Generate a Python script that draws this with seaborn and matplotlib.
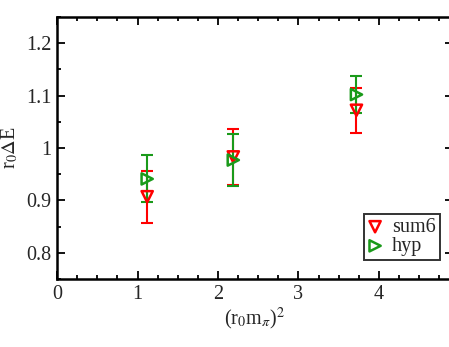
import numpy as np
import matplotlib
matplotlib.use("Agg")
import matplotlib.pyplot as plt
import seaborn as sns

# data
x_pts = [1.12, 2.19, 3.72]
sum6_y = [0.907, 0.983, 1.072]
sum6_err = [0.050, 0.053, 0.043]
hyp_y = [0.941, 0.977, 1.102]
hyp_err = [0.045, 0.050, 0.036]

sns.set_style("ticks")
plt.rcParams["font.family"] = ["Liberation Serif", "DejaVu Serif"]
plt.rcParams["mathtext.fontset"] = "stix"

fig = plt.figure(figsize=(4.49, 3.47), dpi=100)
# right spine falls just outside the picture, like the reference
ax = fig.add_axes([0.127, 0.196, 0.882, 0.755])

ax.errorbar(x_pts, sum6_y, yerr=sum6_err, fmt="none", ecolor="#ff0000",
            elinewidth=1.5, capsize=4, capthick=1.5, zorder=2)
ax.errorbar(x_pts, hyp_y, yerr=hyp_err, fmt="none", ecolor="#1a9a1a",
            elinewidth=1.5, capsize=4, capthick=1.5, zorder=3)
sns.scatterplot(x=x_pts, y=sum6_y, ax=ax, marker="v", s=65,
                facecolors="none", edgecolor="#ff0000", linewidth=1.8,
                label="sum6", zorder=4)
sns.scatterplot(x=x_pts, y=hyp_y, ax=ax, marker=">", s=65,
                facecolors="none", edgecolor="#1a9a1a", linewidth=1.8,
                label="hyp", zorder=5)

ax.set_xlim(0, 4.92)
ax.set_ylim(0.75, 1.25)
ax.set_xticks([0, 1, 2, 3, 4])
ax.set_xticks(np.arange(0, 4.95, 0.25), minor=True)
ax.set_yticks([0.8, 0.9, 1.0, 1.1, 1.2])
ax.set_yticklabels(["0.8", "0.9", "1", "1.1", "1.2"])
ax.set_yticks(np.arange(0.75, 1.26, 0.05), minor=True)
ax.tick_params(which="both", direction="in", top=True, right=True,
               labelsize=14.5, width=1.3, color="black", pad=4)
ax.tick_params(which="major", length=6)
ax.tick_params(which="minor", length=3)
for s in ax.spines.values():
    s.set_linewidth(1.8)
    s.set_color("black")

ax.set_xlabel(r"(r$_0$m$_\pi$)$^2$", fontsize=14.5, labelpad=2)
ax.set_ylabel(r"r$_0$$\Delta$E", fontsize=14.5, labelpad=4)

leg = ax.legend(loc="lower right", bbox_to_anchor=(0.967, 0.072), fontsize=14.5,
                frameon=True, fancybox=False, handlelength=0.7,
                handletextpad=0.5, borderpad=0.2, labelspacing=0.0,
                borderaxespad=0)
leg.get_frame().set_edgecolor("black")
leg.get_frame().set_linewidth(1.4)

fig.savefig("out.png", dpi=100)
